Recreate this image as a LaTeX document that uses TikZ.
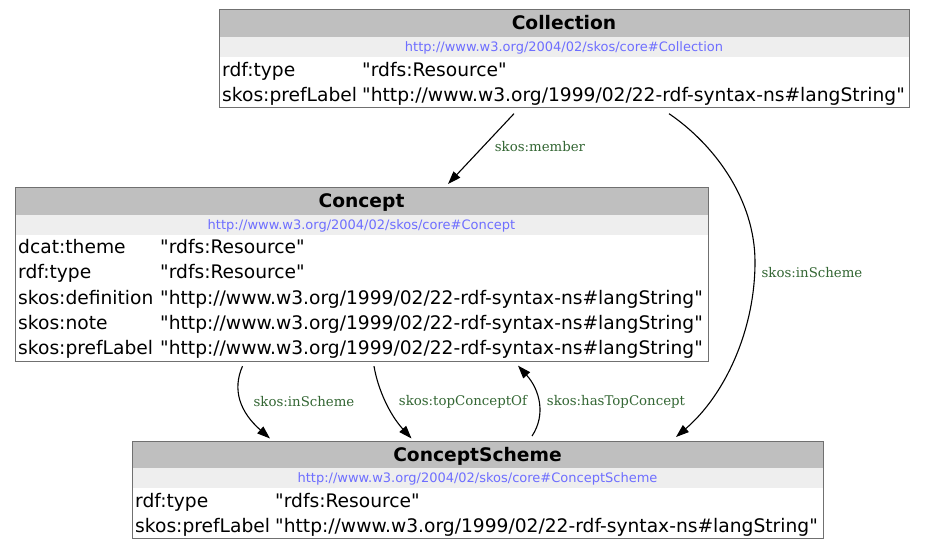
\documentclass[tikz,border=0pt]{standalone}
\usepackage{fontspec}
\setmainfont{DejaVu Sans}[Ligatures=TeXOff]
\newfontfamily\edgefont{DejaVu Serif}
\usetikzlibrary{arrows.meta,calc}
\definecolor{hdrfill}{HTML}{BFBFBF}
\definecolor{urifill}{HTML}{EEEEEE}
\definecolor{uricol}{HTML}{6E6EFF}
\definecolor{lblcol}{HTML}{336633}
\definecolor{framecol}{HTML}{707070}
\newcommand\dq{\symbol{34}}

\tikzset{
  boxframe/.style={draw=framecol, line width=1pt, inner sep=0pt, outer sep=0pt, anchor=north west},
  titletext/.style={font=\fontsize{18.67}{22}\selectfont\bfseries, anchor=base, inner sep=0pt},
  uritext/.style={font=\fontsize{13}{16}\selectfont, text=uricol, anchor=base, inner sep=0pt},
  rowtext/.style={font=\fontsize{18.67}{22}\selectfont, anchor=base west, inner sep=0pt},
  edgelabel/.style={font=\edgefont\fontsize{13.33}{16}\selectfont, text=lblcol, inner sep=0pt},
  conn/.style={line width=1.1pt, -{Triangle[length=13pt,width=9pt]}},
}

% #1 name, #2 x0, #3 y0, #4 x1, #5 number of rows, #6 title, #7 uri
\newcommand\rdfclassbox[7]{%
  \pgfmathsetmacro\rcbW{#4-#2}%
  \pgfmathsetmacro\rcbH{47+25.33*#5}%
  \fill[hdrfill] (#2,#3) rectangle (#4,#3+27);
  \fill[urifill] (#2,#3+27) rectangle (#4,#3+47);
  \node[boxframe, minimum width=\rcbW pt, minimum height=\rcbH pt] (#1) at (#2,#3) {};
  \node[titletext] (#1-title) at ({(#2+#4)/2},#3+20) {#6};
  \node[uritext] (#1-uri) at ({(#2+#4)/2},#3+41.5) {#7};
}
% #1 name, #2 x label, #3 x value, #4 y0 of box, #5 row index, #6 label, #7 value
\newcommand\rdfrow[7]{%
  \node[rowtext] (#1-l#5) at (#2,{#4+47+25.33*(#5-0.5)+6.5}) {#6};
  \node[rowtext] (#1-v#5) at (#3,{#4+47+25.33*(#5-0.5)+6.5}) {#7};
}

\begin{document}
\begin{tikzpicture}[x=1pt,y=-1pt]
\useasboundingbox[fill=white] (0,0) rectangle (926,551);

% Collection
\rdfclassbox{coll}{219}{10}{909}{2}{Collection}{http://www.w3.org/2004/02/skos/core\#Collection}
\rdfrow{coll}{222}{362}{10}{1}{rdf:type}{\dq rdfs:Resource\dq}
\rdfrow{coll}{222}{362}{10}{2}{skos:prefLabel}{\dq http://www.w3.org/1999/02/22-rdf-syntax-ns\#langString\dq}

% Concept
\rdfclassbox{conc}{15}{187.5}{708}{5}{Concept}{http://www.w3.org/2004/02/skos/core\#Concept}
\rdfrow{conc}{18}{160}{187.5}{1}{dcat:theme}{\dq rdfs:Resource\dq}
\rdfrow{conc}{18}{160}{187.5}{2}{rdf:type}{\dq rdfs:Resource\dq}
\rdfrow{conc}{18}{160}{187.5}{3}{skos:definition}{\dq http://www.w3.org/1999/02/22-rdf-syntax-ns\#langString\dq}
\rdfrow{conc}{18}{160}{187.5}{4}{skos:note}{\dq http://www.w3.org/1999/02/22-rdf-syntax-ns\#langString\dq}
\rdfrow{conc}{18}{160}{187.5}{5}{skos:prefLabel}{\dq http://www.w3.org/1999/02/22-rdf-syntax-ns\#langString\dq}

% ConceptScheme
\rdfclassbox{cs}{132}{441}{823}{2}{ConceptScheme}{http://www.w3.org/2004/02/skos/core\#ConceptScheme}
\rdfrow{cs}{135}{275}{441}{1}{rdf:type}{\dq rdfs:Resource\dq}
\rdfrow{cs}{135}{275}{441}{2}{skos:prefLabel}{\dq http://www.w3.org/1999/02/22-rdf-syntax-ns\#langString\dq}

% connectors
\draw[conn] ($(coll.south west)+(295,6)$) -- ($(conc.north west)+(433,-3.5)$);
\node[edgelabel] (lmember) at (540,147) {skos:member};

\draw[conn] ($(coll.south west)+(450,6)$) .. controls (715,145) and (755,200) .. (755,262)
  .. controls (755,330) and (725,395) .. ($(cs.north west)+(544,-4)$);
\node[edgelabel] (linscheme1) at (812,273) {skos:inScheme};

\draw[conn] ($(conc.south west)+(227.5,5)$) .. controls (232,390) and (240,412) .. ($(cs.north west)+(138,-2.5)$);
\node[edgelabel] (linscheme2) at (304,402) {skos:inScheme};

\draw[conn] ($(conc.south west)+(359,5)$) .. controls (378,390) and (390,415) .. ($(cs.north west)+(279.5,-2.5)$);
\node[edgelabel] (ltopof) at (463,402) {skos:topConceptOf};

\draw[conn] ($(cs.north west)+(400,-5)$) .. controls (546,415) and (540,390) .. ($(conc.south west)+(503,4.5)$);
\node[edgelabel] (lhastop) at (616,402) {skos:hasTopConcept};
\end{tikzpicture}
\end{document}
